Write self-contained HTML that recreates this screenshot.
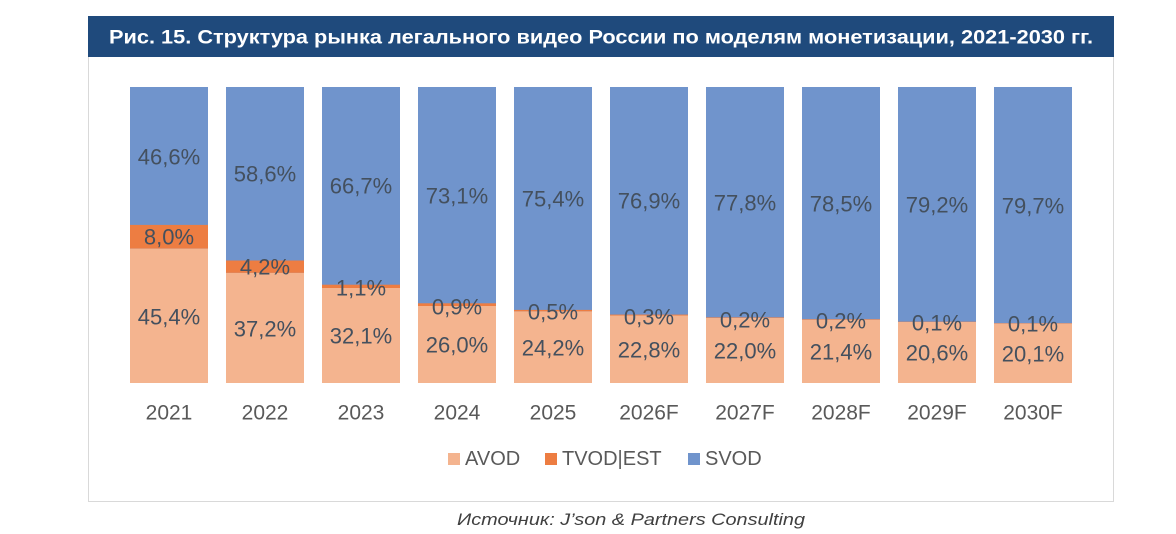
<!DOCTYPE html>
<html><head><meta charset="utf-8"><style>
html,body{margin:0;padding:0;background:#fff;}
svg{display:block;}
</style></head><body>
<svg width="1176" height="534" viewBox="0 0 1176 534" xmlns="http://www.w3.org/2000/svg" font-family="'Liberation Sans', sans-serif">
<rect x="0" y="0" width="1176" height="534" fill="#fff"/>
<rect x="88.5" y="16.5" width="1025" height="485" fill="#fff" stroke="#d9d9d9" stroke-width="1"/>
<rect x="88" y="16" width="1026" height="41" fill="#1f4a7c"/>
<text x="109" y="43.5" fill="#fff" font-weight="bold" font-size="19" textLength="984" lengthAdjust="spacingAndGlyphs">Рис. 15. Структура рынка легального видео России по моделям монетизации, 2021-2030 гг.</text>
<g fill="#7094cc">
<rect x="130" y="87" width="78" height="296"/>
<rect x="226" y="87" width="78" height="296"/>
<rect x="322" y="87" width="78" height="296"/>
<rect x="418" y="87" width="78" height="296"/>
<rect x="514" y="87" width="78" height="296"/>
<rect x="610" y="87" width="78" height="296"/>
<rect x="706" y="87" width="78" height="296"/>
<rect x="802" y="87" width="78" height="296"/>
<rect x="898" y="87" width="78" height="296"/>
<rect x="994" y="87" width="78" height="296"/>
</g>
<g fill="#ed7d42">
<rect x="130" y="224.9" width="78" height="23.7"/>
<rect x="226" y="260.5" width="78" height="12.4"/>
<rect x="322" y="284.7" width="78" height="3.3"/>
<rect x="418" y="303.3" width="78" height="2.7"/>
<rect x="514" y="309.9" width="78" height="1.5"/>
<rect x="610" y="314.6" width="78" height="0.9"/>
<rect x="706" y="317.3" width="78" height="0.6"/>
<rect x="802" y="319.1" width="78" height="0.6"/>
<rect x="898" y="321.7" width="78" height="0.3"/>
<rect x="994" y="323.2" width="78" height="0.3"/>
</g>
<g fill="#f4b48f">
<rect x="130" y="248.6" width="78" height="134.4"/>
<rect x="226" y="272.9" width="78" height="110.1"/>
<rect x="322" y="288" width="78" height="95"/>
<rect x="418" y="306" width="78" height="77"/>
<rect x="514" y="311.4" width="78" height="71.6"/>
<rect x="610" y="315.5" width="78" height="67.5"/>
<rect x="706" y="317.9" width="78" height="65.1"/>
<rect x="802" y="319.7" width="78" height="63.3"/>
<rect x="898" y="322" width="78" height="61"/>
<rect x="994" y="323.5" width="78" height="59.5"/>
</g>
<g font-size="22" fill="#44505e" text-anchor="middle" dominant-baseline="central">
<text x="169" y="157">46,6%</text><text x="169" y="237">8,0%</text><text x="169" y="317">45,4%</text>
<text x="265" y="174">58,6%</text><text x="265" y="267">4,2%</text><text x="265" y="329">37,2%</text>
<text x="361" y="186">66,7%</text><text x="361" y="288">1,1%</text><text x="361" y="336">32,1%</text>
<text x="457" y="196">73,1%</text><text x="457" y="307">0,9%</text><text x="457" y="345">26,0%</text>
<text x="553" y="199">75,4%</text><text x="553" y="312">0,5%</text><text x="553" y="348">24,2%</text>
<text x="649" y="201">76,9%</text><text x="649" y="317">0,3%</text><text x="649" y="350">22,8%</text>
<text x="745" y="203">77,8%</text><text x="745" y="320">0,2%</text><text x="745" y="351">22,0%</text>
<text x="841" y="204">78,5%</text><text x="841" y="321">0,2%</text><text x="841" y="352">21,4%</text>
<text x="937" y="205">79,2%</text><text x="937" y="323">0,1%</text><text x="937" y="353">20,6%</text>
<text x="1033" y="206">79,7%</text><text x="1033" y="324">0,1%</text><text x="1033" y="354">20,1%</text>
</g>
<g font-size="21" fill="#595959" text-anchor="middle" dominant-baseline="central">
<text x="169" y="413">2021</text><text x="265" y="413">2022</text><text x="361" y="413">2023</text>
<text x="457" y="413">2024</text><text x="553" y="413">2025</text><text x="649" y="413">2026F</text>
<text x="745" y="413">2027F</text><text x="841" y="413">2028F</text><text x="937" y="413">2029F</text>
<text x="1033" y="413">2030F</text>
</g>
<g font-size="20" fill="#595959" dominant-baseline="central">
<rect x="448" y="453" width="12" height="12" fill="#f4b48f"/><text x="465" y="459">AVOD</text>
<rect x="545" y="453" width="12" height="12" fill="#ed7d42"/><text x="562" y="459">TVOD|EST</text>
<rect x="688" y="453" width="12" height="12" fill="#7094cc"/><text x="705" y="459">SVOD</text>
</g>
<text x="457" y="525" font-size="17" font-style="italic" fill="#404040" textLength="348" lengthAdjust="spacingAndGlyphs">Источник: J’son &amp; Partners Consulting</text>
</svg>
</body></html>
